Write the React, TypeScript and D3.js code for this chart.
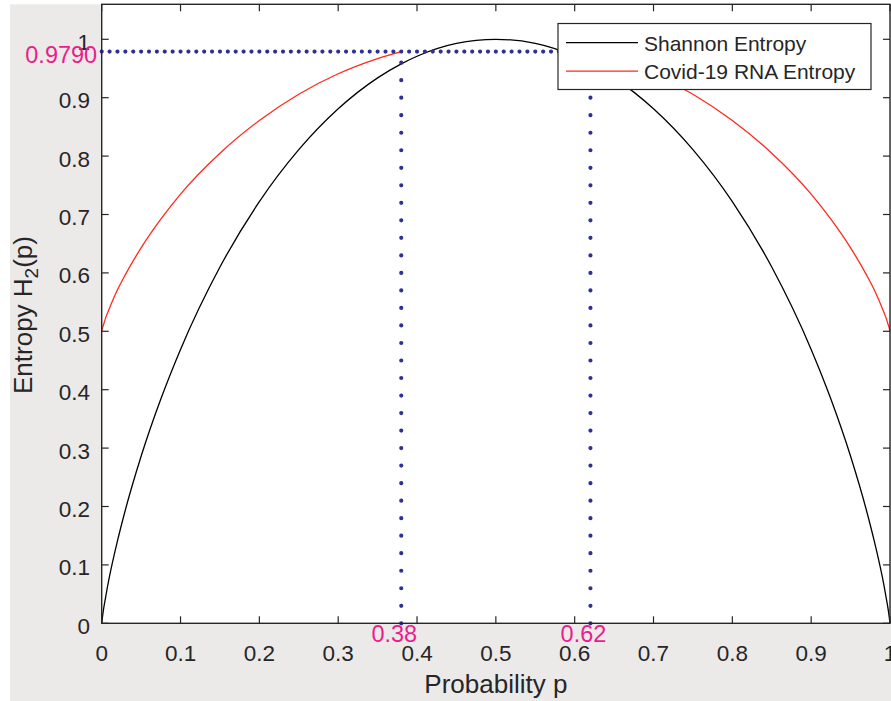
import React, { useEffect, useRef } from 'react';
import * as d3 from 'd3';

// values
const probability = [0, 0.001, 0.002, 0.005, 0.01, 0.02, 0.03, 0.05, 0.075, 0.1, 0.15, 0.2, 0.25, 0.3, 0.35, 0.38, 0.4, 0.45, 0.5,
  0.55, 0.6, 0.62, 0.65, 0.7, 0.75, 0.8, 0.85, 0.9, 0.925, 0.95, 0.97, 0.98, 0.99, 0.995, 0.998, 0.999, 1];
const shannonEntropy = [0, 0.011, 0.021, 0.045, 0.081, 0.141, 0.194, 0.286, 0.384, 0.469, 0.610, 0.722, 0.811, 0.881, 0.934, 0.958, 0.971, 0.993, 1.0,
  0.993, 0.971, 0.958, 0.934, 0.881, 0.811, 0.722, 0.610, 0.469, 0.384, 0.286, 0.194, 0.141, 0.081, 0.045, 0.021, 0.011, 0];
const covidEntropy: (number | null)[] = [0.5, 0.506, 0.510, 0.523, 0.540, 0.571, 0.597, 0.643, 0.692, 0.735, 0.805, 0.861, 0.906, 0.941, 0.967, 0.979,
  null, null, null, null, null,
  0.979, 0.967, 0.941, 0.906, 0.861, 0.805, 0.735, 0.692, 0.643, 0.597, 0.571, 0.540, 0.523, 0.510, 0.506, 0.5];

const xTicks = [0, 0.1, 0.2, 0.3, 0.4, 0.5, 0.6, 0.7, 0.8, 0.9, 1];
const yTicks = [0, 0.1, 0.2, 0.3, 0.4, 0.5, 0.6, 0.7, 0.8, 0.9, 1];

const thresholdEntropy = 0.979;
const thresholdP = [0.38, 0.62];
const thresholdLabels = ['0.38', '0.62'];
const seriesNames = ['Shannon Entropy', 'Covid-19 RNA Entropy'];
const seriesColors = ['#000000', '#ff2a1a'];

export default function App() {
  const ref = useRef<SVGSVGElement>(null);

  useEffect(() => {
    const width = 891;
    const height = 701;
    const left = 101.7, right = 890, top = 4.3, bottom = 623.3;
    const font = '"Liberation Sans", Arial, sans-serif';
    const axisColor = '#262626';
    const pink = '#ec1c8c';
    const navy = '#2e3192';

    const svg = d3.select(ref.current).attr('width', width).attr('height', height);
    svg.selectAll('*').remove();

    const x = d3.scaleLinear().domain([0, 1]).range([left, right]);
    const y = d3.scaleLinear().domain([0, 1]).range([bottom, bottom - 584]);

    // figure background
    svg.append('rect').attr('x', 0).attr('y', 0).attr('width', width).attr('height', height).attr('fill', '#ffffff');
    svg.append('rect').attr('x', 10).attr('y', 0).attr('width', width - 10).attr('height', height).attr('fill', '#ebeae9');
    svg.append('rect').attr('x', 10).attr('y', 0).attr('width', width - 10).attr('height', top).attr('fill', '#ffffff');
    svg.append('rect').attr('x', left).attr('y', top).attr('width', right - left).attr('height', bottom - top).attr('fill', '#ffffff');

    const line = d3.line<number>()
      .defined((d, i) => d !== null)
      .x((d, i) => x(probability[i]))
      .y((d) => y(d as number))
      .curve(d3.curveMonotoneX);

    const plot = svg.append('g');
    plot.append('path').attr('d', line(shannonEntropy)).attr('fill', 'none')
      .attr('stroke', seriesColors[0]).attr('stroke-width', 1.3);
    plot.append('path').attr('d', line(covidEntropy as number[])).attr('fill', 'none')
      .attr('stroke', seriesColors[1]).attr('stroke-width', 1.3);

    // dotted marker lines (dots every 0.01 in p, every 0.03 in H)
    plot.append('line')
      .attr('x1', x(0)).attr('x2', x(thresholdP[1]))
      .attr('y1', y(thresholdEntropy)).attr('y2', y(thresholdEntropy))
      .attr('stroke', navy).attr('stroke-width', 4.2).attr('stroke-linecap', 'round')
      .attr('stroke-dasharray', `0 ${x(0.01) - x(0)}`);
    thresholdP.forEach((p) => {
      plot.append('line')
        .attr('x1', x(p)).attr('x2', x(p))
        .attr('y1', y(0)).attr('y2', y(thresholdEntropy))
        .attr('stroke', navy).attr('stroke-width', 4.2).attr('stroke-linecap', 'round')
        .attr('stroke-dasharray', `0 ${y(0) - y(0.03)}`);
    });

    // axes box with inward ticks
    svg.append('rect').attr('x', left).attr('y', top).attr('width', right - left).attr('height', bottom - top)
      .attr('fill', 'none').attr('stroke', axisColor).attr('stroke-width', 1.4);
    const tickLen = 7;
    xTicks.forEach((t) => {
      svg.append('line').attr('x1', x(t)).attr('x2', x(t)).attr('y1', bottom).attr('y2', bottom - tickLen)
        .attr('stroke', axisColor).attr('stroke-width', 1.2);
      svg.append('line').attr('x1', x(t)).attr('x2', x(t)).attr('y1', top).attr('y2', top + tickLen)
        .attr('stroke', axisColor).attr('stroke-width', 1.2);
      svg.append('text').attr('x', x(t)).attr('y', 661).attr('text-anchor', 'middle')
        .attr('font-family', font).attr('font-size', 22.5).attr('fill', axisColor).text(String(t));
    });
    yTicks.forEach((t) => {
      svg.append('line').attr('x1', left).attr('x2', left + tickLen).attr('y1', y(t)).attr('y2', y(t))
        .attr('stroke', axisColor).attr('stroke-width', 1.2);
      svg.append('line').attr('x1', right).attr('x2', right - tickLen).attr('y1', y(t)).attr('y2', y(t))
        .attr('stroke', axisColor).attr('stroke-width', 1.2);
      svg.append('text').attr('x', 90).attr('y', y(t) + 10.5).attr('text-anchor', 'end')
        .attr('font-family', font).attr('font-size', 22.5).attr('fill', axisColor).text(String(t));
    });

    // axis labels
    svg.append('text').attr('x', (left + right) / 2).attr('y', 693).attr('text-anchor', 'middle')
      .attr('font-family', font).attr('font-size', 26).attr('fill', axisColor).text('Probability p');
    const yl = svg.append('text').attr('transform', 'translate(31.5,315) rotate(-90)').attr('text-anchor', 'middle')
      .attr('font-family', font).attr('font-size', 26).attr('fill', axisColor);
    yl.append('tspan').text('Entropy H');
    yl.append('tspan').attr('font-size', 19).attr('dy', 6).text('2');
    yl.append('tspan').attr('dy', -6).text('(p)');

    // annotations
    svg.append('text').attr('x', left - 4.5).attr('y', y(thresholdEntropy) + 11).attr('text-anchor', 'end')
      .attr('font-family', font).attr('font-size', 23.5).attr('fill', pink).text(String(thresholdEntropy.toFixed(4)));
    thresholdP.forEach((p, i) => {
      svg.append('text').attr('x', x(p) - 7).attr('y', 642).attr('text-anchor', 'middle')
        .attr('font-family', font).attr('font-size', 23.5).attr('fill', pink).text(thresholdLabels[i]);
    });

    // legend
    const lg = svg.append('g');
    lg.append('rect').attr('x', 558).attr('y', 23.5).attr('width', 313).attr('height', 66)
      .attr('fill', '#ffffff').attr('stroke', axisColor).attr('stroke-width', 1.2);
    seriesNames.forEach((name, i) => {
      const ly = 42.7 + i * 28.5;
      lg.append('line').attr('x1', 566).attr('x2', 638).attr('y1', ly).attr('y2', ly)
        .attr('stroke', seriesColors[i]).attr('stroke-width', 1.3);
      lg.append('text').attr('x', 644).attr('y', ly + 8).attr('font-family', font).attr('font-size', 21)
        .attr('fill', axisColor).text(name);
    });
  }, []);

  return (
    <div style={{ position: 'absolute', left: 0, top: 0 }}>
      <svg ref={ref} style={{ display: 'block' }} />
    </div>
  );
}
